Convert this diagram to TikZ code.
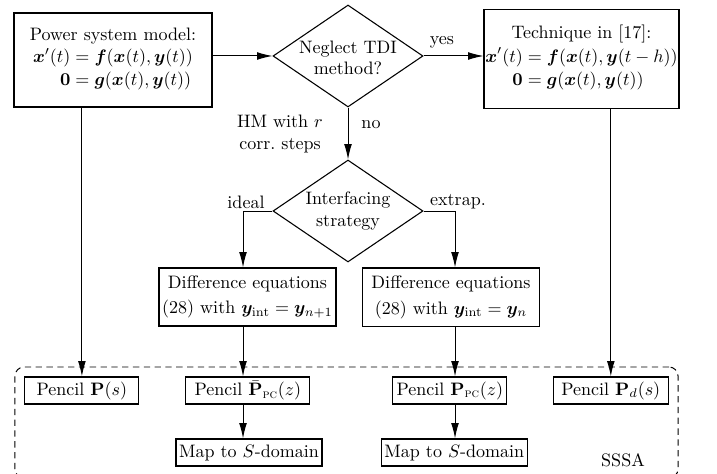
\documentclass[tikz,border=0pt]{standalone}
\usepackage{amsmath,bm}
\usetikzlibrary{shapes.geometric,arrows.meta}
\setlength{\jot}{1pt}
\begin{document}
\begin{tikzpicture}[x=0.555pt,y=-0.555pt,
  box/.style={draw, line width=0.6pt, align=center, inner sep=1pt},
  diam/.style={draw, diamond, line width=0.6pt, minimum width=83.25pt, minimum height=56.6pt, inner sep=0pt},
  arr/.style={-{Latex[length=8.5pt,width=4.3pt]}, line width=0.55pt},
  lbl/.style={inner sep=0pt, align=center}]
\useasboundingbox (0,0) rectangle (717,474);
\clip (0,0) rectangle (717,474);

% frame
\node[draw, dashed, dash pattern=on 3.5pt off 2.5pt, line width=0.55pt, rounded corners=5pt,
      minimum width=368pt, minimum height=61.6pt, inner sep=0pt] (frame) at (346.5,422.5) {};
\node[lbl] (sssa) at (623,460) {SSSA};

% top row
\node[box, minimum width=109.9pt, minimum height=52.2pt] (b1) at (113,60)
  {Power system model:\\[1pt] $\begin{aligned}\bm{x}'(t)&=\bm{f}(\bm{x}(t),\bm{y}(t))\\ \mathbf{0}&=\bm{g}(\bm{x}(t),\bm{y}(t))\end{aligned}$};
\node[diam] (d1) at (348,56) {};
\node[lbl] (d1t) at (348,58) {Neglect TDI\\method?};
\node[box, inner xsep=0pt, minimum width=108.2pt, minimum height=55pt] (b2) at (581.5,58.7)
  {Technique in [17]:\\[1pt] $\begin{aligned}\bm{x}'(t)&=\bm{f}(\bm{x}(t),\bm{y}(t-h))\\ \mathbf{0}&=\bm{g}(\bm{x}(t),\bm{y}(t))\end{aligned}$};

% second diamond
\node[diam] (d2) at (348,211) {};
\node[lbl] (d2t) at (348,211) {Interfacing\\strategy};

% labels
\node[lbl] (yes) at (442,42) {yes};
\node[lbl] (no) at (371,125) {no};
\node[lbl] (hm) at (280,134) {HM with $r$\\corr.\ steps};
\node[lbl] (ideal) at (246,202) {ideal};
\node[lbl] (extrap) at (458,202) {extrap.};

% difference equation boxes
\node[box, minimum width=98.2pt, minimum height=32.2pt] (b3) at (247.5,297)
  {Difference equations\\[2pt] (28) with $\bm{y}_{\mathrm{int}}=\bm{y}_{n+1}$};
\node[box, minimum width=98pt, minimum height=32.7pt] (b4) at (451,297.5)
  {Difference equations\\[2pt] (28) with $\bm{y}_{\mathrm{int}}=\bm{y}_{n}$};

% pencils
\node[box, minimum width=63.3pt, minimum height=15pt] (p1) at (81.9,390.5) {Pencil $\mathbf{P}(s)$};
\node[box, minimum width=68.8pt, minimum height=15pt] (p2) at (247.9,390.5) {Pencil $\bar{\mathbf{P}}_{\text{\textsc{pc}}}(z)$};
\node[box, minimum width=63.3pt, minimum height=15pt] (p3) at (449.8,390.5) {Pencil $\mathbf{P}_{\text{\textsc{pc}}}(z)$};
\node[box, minimum width=63.8pt, minimum height=15pt] (p4) at (610.8,390.5) {Pencil $\mathbf{P}_{d}(s)$};
\node[box, minimum width=81pt, minimum height=15pt] (m1) at (249,452.5) {Map to $S$-domain};
\node[box, minimum width=81pt, minimum height=15pt] (m2) at (454.3,452.5) {Map to $S$-domain};

% columns
\coordinate (cl) at (243,0);
\coordinate (cr) at (455,0);

% connectors
\draw[arr] (b1.east |- d1.west) -- (d1.west);
\draw[arr] (d1.east) -- (d1.east -| b2.west);
\draw[arr] (d1.south) -- (d2.north);
\draw[arr] (d2.west) -| (b3.north -| cl);
\draw[arr] (d2.east) -| (b4.north -| cr);
\draw[arr] (b3.south -| cl) -- (p2.north -| cl);
\draw[arr] (p2.south -| cl) -- (m1.north -| cl);
\draw[arr] (b4.south -| cr) -- (p3.north -| cr);
\draw[arr] (p3.south -| cr) -- (m2.north -| cr);
\draw[arr] (b1.south -| p1.north) -- (p1.north);
\draw[arr] (b2.south -| p4.north) -- (p4.north);
\end{tikzpicture}
\end{document}
